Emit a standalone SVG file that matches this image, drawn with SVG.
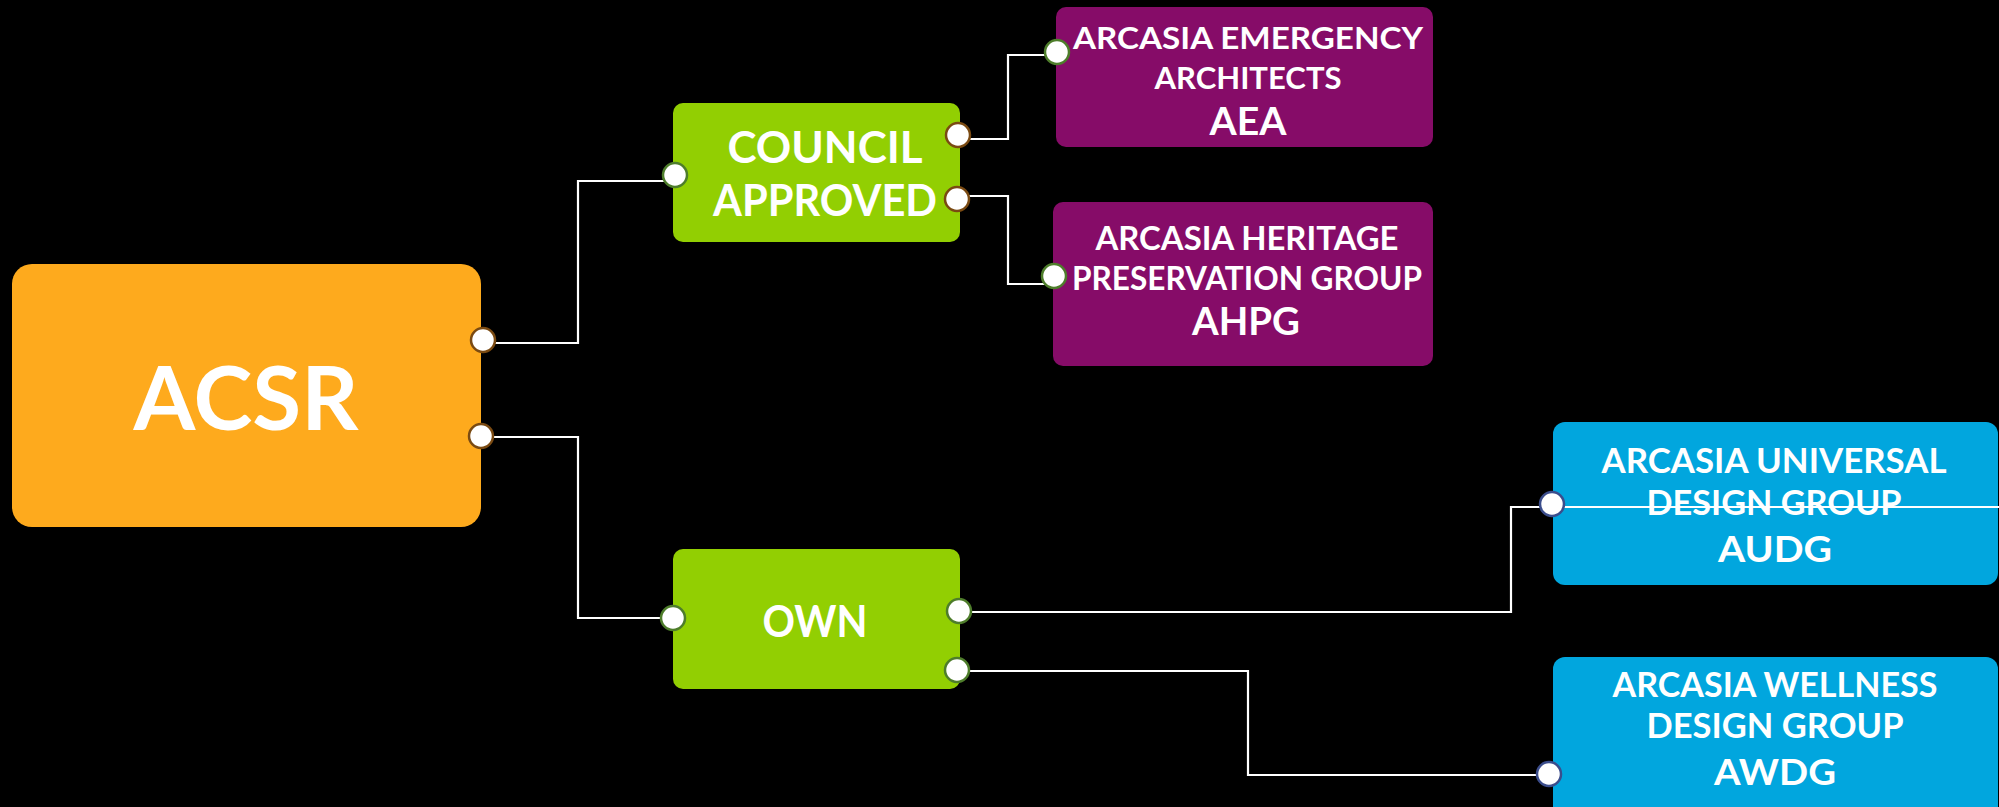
<svg xmlns="http://www.w3.org/2000/svg" width="1999" height="807" viewBox="0 0 1999 807">
<style>
  text { font-family: Lato, "Noto Sans", "Liberation Sans", sans-serif; font-weight: bold; fill: #ffffff; text-anchor: middle; }
  .conn { fill: none; stroke: #ffffff; stroke-width: 2.2; }
  .port { fill: #ffffff; stroke-width: 2.5; }
  .pb { stroke: #7a4a12; }
  .pg { stroke: #4e7d2b; }
  .pu { stroke: #3b4d8c; }
  .orange { fill: #feaa1d; }
  .green { fill: #92cf02; }
  .purple { fill: #860c68; }
  .blue { fill: #01a6de; }
</style>
<rect x="0" y="0" width="1999" height="807" fill="#000000"/>
<g id="acsr">
  <rect class="orange" x="12" y="264" width="469" height="263" rx="20"/>
  <text x="246" y="430" font-size="88" textLength="225" lengthAdjust="spacingAndGlyphs">ACSR</text>
</g>
<g id="council-approved">
  <rect class="green" x="673" y="103" width="287" height="139" rx="10"/>
  <text x="825" y="163" font-size="43" textLength="195" lengthAdjust="spacingAndGlyphs">COUNCIL</text>
  <text x="825" y="216" font-size="43" textLength="224" lengthAdjust="spacingAndGlyphs">APPROVED</text>
</g>
<g id="own">
  <rect class="green" x="673" y="549" width="287" height="140" rx="10"/>
  <text x="815" y="637" font-size="44" textLength="105" lengthAdjust="spacingAndGlyphs">OWN</text>
</g>
<g id="aea">
  <rect class="purple" x="1056" y="7" width="377" height="140" rx="10"/>
  <text x="1248" y="49" font-size="31" textLength="350" lengthAdjust="spacingAndGlyphs">ARCASIA EMERGENCY</text>
  <text x="1248" y="89" font-size="31" textLength="187" lengthAdjust="spacingAndGlyphs">ARCHITECTS</text>
  <text x="1248" y="135" font-size="39" textLength="77" lengthAdjust="spacingAndGlyphs">AEA</text>
</g>
<g id="ahpg">
  <rect class="purple" x="1053" y="202" width="380" height="164" rx="10"/>
  <text x="1247" y="250" font-size="32" textLength="303" lengthAdjust="spacingAndGlyphs">ARCASIA HERITAGE</text>
  <text x="1247" y="290" font-size="32" textLength="350" lengthAdjust="spacingAndGlyphs">PRESERVATION GROUP</text>
  <text x="1246" y="335" font-size="38" textLength="108" lengthAdjust="spacingAndGlyphs">AHPG</text>
</g>
<g id="audg">
  <rect class="blue" x="1553" y="422" width="445" height="163" rx="12"/>
  <text x="1774" y="473" font-size="35" textLength="345" lengthAdjust="spacingAndGlyphs">ARCASIA UNIVERSAL</text>
  <text x="1774" y="515" font-size="35" textLength="255" lengthAdjust="spacingAndGlyphs">DESIGN GROUP</text>
  <text x="1775" y="562" font-size="37" textLength="114" lengthAdjust="spacingAndGlyphs">AUDG</text>
</g>
<g id="awdg">
  <rect class="blue" x="1553" y="657" width="445" height="170" rx="12"/>
  <text x="1775" y="697" font-size="35" textLength="325" lengthAdjust="spacingAndGlyphs">ARCASIA WELLNESS</text>
  <text x="1775" y="738" font-size="35" textLength="257" lengthAdjust="spacingAndGlyphs">DESIGN GROUP</text>
  <text x="1775" y="785" font-size="37" textLength="122" lengthAdjust="spacingAndGlyphs">AWDG</text>
</g>
<g id="connectors">
  <polyline class="conn" points="483,343 578,343 578,181 673,181"/>
  <polyline class="conn" points="481,437 578,437 578,618 673,618"/>
  <polyline class="conn" points="958,139 1008,139 1008,55 1057,55"/>
  <polyline class="conn" points="957,196 1008,196 1008,284 1054,284"/>
  <polyline class="conn" points="959,612 1511,612 1511,507 1999,507"/>
  <polyline class="conn" points="957,671 1248,671 1248,775 1549,775"/>
</g>
<g id="ports">
  <circle class="port pb" cx="483" cy="340" r="12"/>
  <circle class="port pb" cx="481" cy="436" r="12"/>
  <circle class="port pg" cx="675" cy="175" r="12"/>
  <circle class="port pb" cx="958" cy="135" r="12"/>
  <circle class="port pb" cx="957" cy="199" r="12"/>
  <circle class="port pg" cx="673" cy="618" r="12"/>
  <circle class="port pg" cx="959" cy="611" r="12"/>
  <circle class="port pg" cx="957" cy="670" r="12"/>
  <circle class="port pg" cx="1057" cy="52" r="12"/>
  <circle class="port pg" cx="1054" cy="276" r="12"/>
  <circle class="port pu" cx="1552" cy="504" r="12"/>
  <circle class="port pu" cx="1549" cy="774" r="12"/>
</g>
</svg>
